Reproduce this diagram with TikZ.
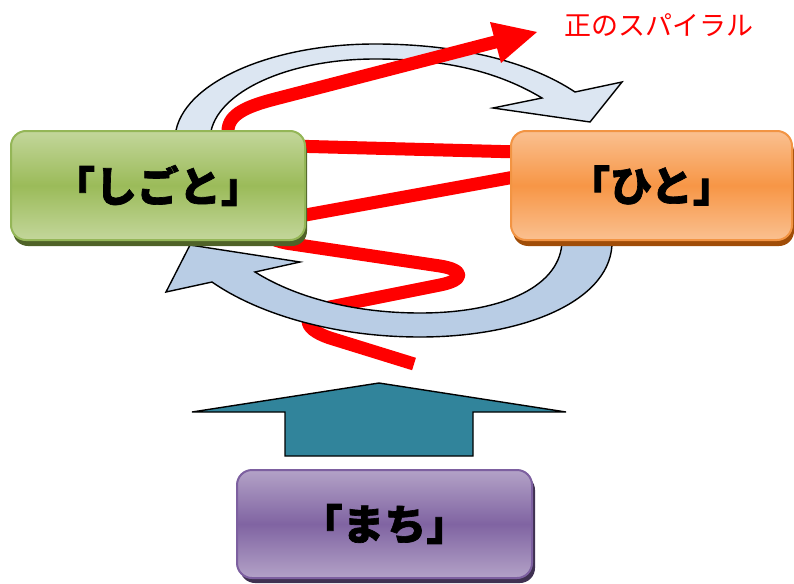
\documentclass[tikz,border=0pt]{standalone}
\usepackage{fontspec}
\newfontfamily\jp{Noto Sans CJK JP}[BoldFeatures={FakeBold=1.6}]
\usetikzlibrary{shadows}
\definecolor{gtop}{HTML}{C3D69B}
\definecolor{gmid}{HTML}{9BBB59}
\definecolor{gline}{HTML}{94B657}
\definecolor{gshad}{HTML}{4F6228}
\definecolor{otop}{HTML}{FAC090}
\definecolor{omid}{HTML}{F79646}
\definecolor{oline}{HTML}{F29443}
\definecolor{oshad}{HTML}{A04D08}
\definecolor{ptop}{HTML}{B3A2C7}
\definecolor{pmid}{HTML}{8064A2}
\definecolor{pline}{HTML}{7D60A0}
\definecolor{pshad}{HTML}{3F3151}
\definecolor{lightblue}{HTML}{DCE6F2}
\definecolor{midblue}{HTML}{B9CDE5}
\definecolor{tealc}{HTML}{31849B}
\tikzset{
  box/.style={rounded corners=15pt, inner sep=0pt, line width=2pt,
    font=\jp\bfseries\fontsize{42}{50}\selectfont, text=black},
  greenbox/.style={box, draw=gline, top color=gtop, bottom color=gtop, middle color=gmid,
    drop shadow={shadow xshift=2pt, shadow yshift=-6pt, fill=gshad, opacity=1},
    minimum width=294pt, minimum height=109pt},
  orangebox/.style={box, draw=oline, top color=otop, bottom color=otop, middle color=omid,
    drop shadow={shadow xshift=2pt, shadow yshift=-6pt, fill=oshad, opacity=1},
    minimum width=281pt, minimum height=109pt},
  purplebox/.style={box, draw=pline, top color=ptop, bottom color=ptop, middle color=pmid,
    drop shadow={shadow xshift=3pt, shadow yshift=-5pt, fill=pshad, opacity=1},
    minimum width=295pt, minimum height=108pt},
  cyclearrow/.style={draw=black, line width=1.4pt, line join=miter},
  redline/.style={draw=red, line width=13pt, line join=round, line cap=butt},
  upshape/.style={draw=black, fill=tealc, line width=1.4pt, line join=miter},
}
\begin{document}
\begin{tikzpicture}[x=1pt,y=-1pt]
\useasboundingbox (0,0) rectangle (794,583);
% upper cycle arrow (behind red)
\filldraw[cyclearrow, fill=lightblue]
  (175,140) .. controls (175,87) and (265,44) .. (375,44)
  .. controls (460,44) and (530,62) .. (575,92)
  -- (622,82) -- (590,122) -- (493,108) -- (542,98)
  .. controls (500,73) and (450,59) .. (375,59)
  .. controls (284,59) and (210,95) .. (210,140) -- cycle;
% red spiral
\draw[redline] (414,364) -- (330,338)
  .. controls (300,328) and (300,312) .. (335,306)
  -- (440,285) .. controls (465,280) and (465,270) .. (440,266)
  -- (292,244) .. controls (260,240) and (250,222) .. (300,216)
  -- (520,176) .. controls (545,172) and (545,154) .. (520,152)
  -- (290,146) .. controls (250,145) and (228,150) .. (228,131)
  .. controls (228,114) and (248,106) .. (275,99) -- (503,40);
\fill[red] (490,22) -- (537,32) -- (501,63) -- cycle;
% lower cycle arrow (over red)
\filldraw[cyclearrow, fill=midblue]
  (612,240) .. controls (614,300) and (525,337) .. (420,337)
  .. controls (330,337) and (255,312) .. (212,282)
  -- (166,292) -- (190,245) -- (300,262) -- (255,272)
  .. controls (300,300) and (360,313) .. (420,313)
  .. controls (505,313) and (562,285) .. (562,240) -- cycle;
% boxes
\node[greenbox] (shigoto) at (158,185.5) {\raisebox{-3pt}{「しごと」}};
\node[orangebox] (hito) at (651.5,185.5) {\raisebox{-3pt}{「ひと」}};
% up arrow
\filldraw[upshape] (379,383) -- (566,412) -- (473,412) -- (473,456)
  -- (285,456) -- (285,412) -- (192,412) -- cycle;
\node[purplebox] (machi) at (384.5,524) {\raisebox{-3pt}{「まち」}};
% label
\node[text=red, font=\jp\fontsize{27}{30}\selectfont] (label) at (659,25) {正のスパイラル};
\end{tikzpicture}
\end{document}
